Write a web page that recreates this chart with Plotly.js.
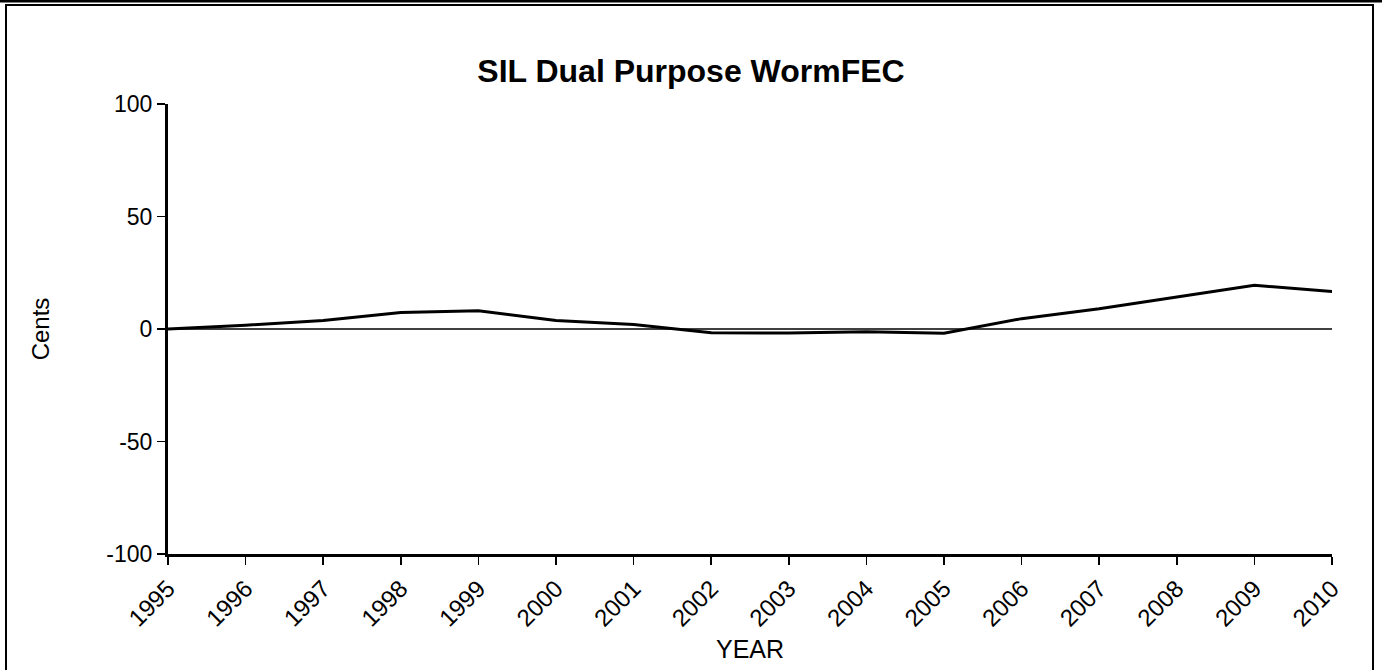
<!DOCTYPE html>
<html>
<head>
<meta charset="utf-8">
<script src="https://cdn.plot.ly/plotly-3.0.1.min.js"></script>
<style>html,body{margin:0;padding:0;background:#fff;}#chart{width:1382px;height:670px;}</style>
</head>
<body>
<div id="chart"></div>
<script>
const years = [1995,1996,1997,1998,1999,2000,2001,2002,2003,2004,2005,2006,2007,2008,2009,2010];
const cents = [0,1.7,3.8,7.3,8.1,3.8,2.0,-1.7,-1.8,-1.2,-1.9,4.6,9.0,14.2,19.4,16.7];
const tickLabels = years.map(String);
const yTicks = [-100,-50,0,50,100];

const font = 'Liberation Sans, Arial, sans-serif';
const data = [
  {x:[years[0], years[years.length-1]], y:[0,0], mode:'lines', line:{color:'#000', width:1.5}, hoverinfo:'skip', showlegend:false},
  {x:years, y:cents, mode:'lines', line:{color:'#000', width:3}, showlegend:false}
];
const layout = {
  width:1382, height:670,
  margin:{l:168, r:50, t:104, b:116},
  paper_bgcolor:'#fff', plot_bgcolor:'#fff',
  font:{family:font, color:'#000'},
  title:{text:'<b>SIL Dual Purpose WormFEC</b>', font:{size:32, family:font, color:'#000'}, x:0.5, xanchor:'center', y:0.895, yanchor:'middle'},
  xaxis:{range:[1995,2010], tickvals:years, ticktext:tickLabels, tickangle:-45,
    ticks:'outside', ticklen:8, tickwidth:1.5, tickcolor:'#000',
    showline:true, linewidth:3, linecolor:'#000', showgrid:false, zeroline:false,
    tickfont:{size:24, family:font}, title:{text:'YEAR', font:{size:25, family:font}, standoff:10}},
  yaxis:{range:[-100,100], tickvals:yTicks, ticktext:yTicks.map(String),
    ticks:'outside', ticklen:8, tickwidth:1.5, tickcolor:'#000',
    showline:true, linewidth:3, linecolor:'#000', showgrid:false, zeroline:false,
    tickfont:{size:23, family:font}, title:{text:'Cents', font:{size:24, family:font}, standoff:50}},
  shapes:[
    {type:'rect', xref:'paper', yref:'paper', x0:(6-168)/1164, x1:(1373-168)/1164, y0:(554-672)/450, y1:(554-5)/450, line:{color:'#000', width:2}},
    {type:'line', xref:'paper', yref:'paper', x0:-0.2, x1:1.1, y0:(554-1)/450, y1:(554-1)/450, line:{color:'#000', width:3}}
  ]
};
Plotly.newPlot('chart', data, layout, {staticPlot:true, displayModeBar:false});
</script>
</body>
</html>
